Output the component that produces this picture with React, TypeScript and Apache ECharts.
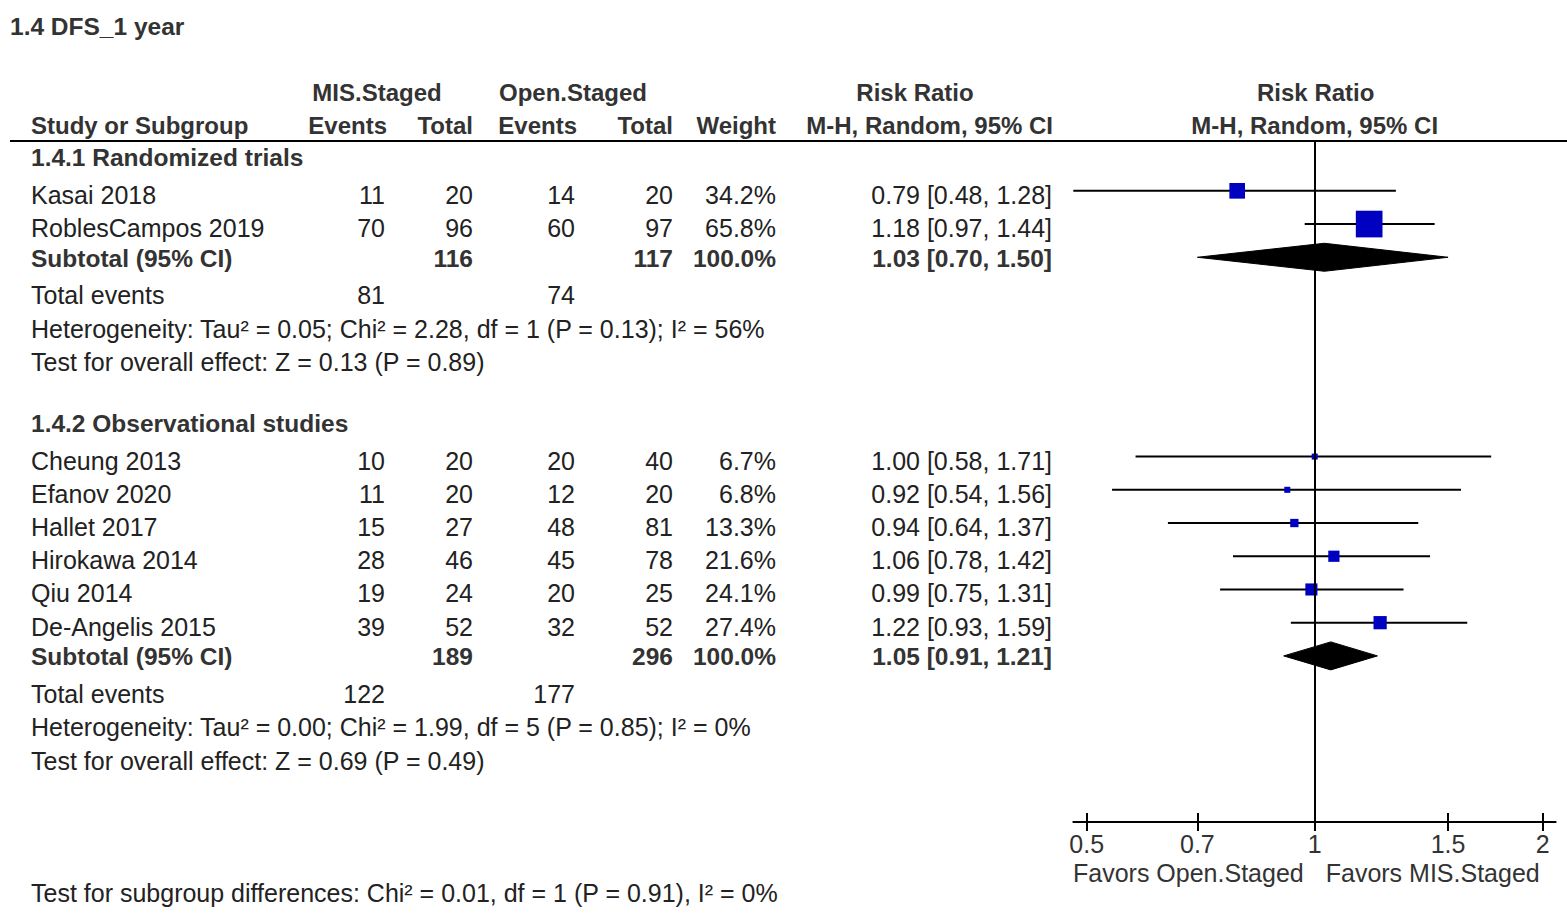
import React, { useEffect, useRef } from 'react';
import * as echarts from 'echarts';

// ---------------- data ----------------
const chartTitle = '1.4 DFS_1 year';
const groupLabel1 = 'MIS.Staged';
const groupLabel2 = 'Open.Staged';

const subgroupNames = ['1.4.1 Randomized trials', '1.4.2 Observational studies'];
const subgroupHeaderRows = [0, 8];

const studies = ['Kasai 2018', 'RoblesCampos 2019', 'Cheung 2013', 'Efanov 2020', 'Hallet 2017', 'Hirokawa 2014', 'Qiu 2014', 'De-Angelis 2015'];
const studyRows = [1, 2, 9, 10, 11, 12, 13, 14];
const misEvents = [11, 70, 10, 11, 15, 28, 19, 39];
const misTotal = [20, 96, 20, 20, 27, 46, 24, 52];
const openEvents = [14, 60, 20, 12, 48, 45, 20, 32];
const openTotal = [20, 97, 40, 20, 81, 78, 25, 52];
const weights = [34.2, 65.8, 6.7, 6.8, 13.3, 21.6, 24.1, 27.4];
const rr = [0.79, 1.18, 1.0, 0.92, 0.94, 1.06, 0.99, 1.22];
const rrLow = [0.48, 0.97, 0.58, 0.54, 0.64, 0.78, 0.75, 0.93];
const rrHigh = [1.28, 1.44, 1.71, 1.56, 1.37, 1.42, 1.31, 1.59];

const subtotalRows = [3, 15];
const subMisTotal = [116, 189];
const subOpenTotal = [117, 296];
const subWeight = [100.0, 100.0];
const subRR = [1.03, 1.05];
const subLow = [0.7, 0.91];
const subHigh = [1.5, 1.21];

const totalEventsRows = [4, 16];
const totalEventsMis = [81, 122];
const totalEventsOpen = [74, 177];

const heterogeneityRows = [5, 17];
const heterogeneity = [
  'Heterogeneity: Tau² = 0.05; Chi² = 2.28, df = 1 (P = 0.13); I² = 56%',
  'Heterogeneity: Tau² = 0.00; Chi² = 1.99, df = 5 (P = 0.85); I² = 0%',
];
const overallRows = [6, 18];
const overallEffect = [
  'Test for overall effect: Z = 0.13 (P = 0.89)',
  'Test for overall effect: Z = 0.69 (P = 0.49)',
];
const subgroupDiffRow = 22;
const subgroupDiff = 'Test for subgroup differences: Chi² = 0.01, df = 1 (P = 0.91), I² = 0%';

const axisTicks = [0.5, 0.7, 1, 1.5, 2];
const favorsLeft = 'Favors Open.Staged';
const favorsRight = 'Favors MIS.Staged';

// ---------------- styles ----------------
const FONT = '"Liberation Sans", Arial, Helvetica, sans-serif';
const FS = 25;
const FSB = 24.5;
const FSH = 24;
const TXT = '#222';
const BOLD = '#333';
const BLUE = '#0000c0';

export default function App() {
  const ref = useRef<HTMLDivElement>(null);

  useEffect(() => {
    const chart = echarts.init(ref.current!, null, { renderer: 'svg' });

    const baseX = {
      type: 'log',
      logBase: 10,
      min: 0.48,
      max: 2.08,
      position: 'bottom',
      offset: 0,
      gridIndex: 0,
      splitLine: { show: false },
      minorTick: { show: false },
    };

    const option: any = {
      animation: false,
      backgroundColor: '#ffffff',
      grid: { left: 1073.3, top: 141, width: 482.3, height: 681, containLabel: false },
      xAxis: [
        {
          ...baseX,
          axisLine: { show: true, onZero: false, lineStyle: { color: '#000', width: 2 } },
          axisTick: { show: true, inside: false, length: 9, customValues: axisTicks, lineStyle: { color: '#000', width: 2 } },
          axisLabel: {
            show: true,
            customValues: axisTicks,
            margin: 9,
            color: '#333',
            fontSize: FS,
            fontFamily: FONT,
            formatter: (v: number) => String(+Number(v).toFixed(2)),
          },
        },
        {
          ...baseX,
          axisLine: { show: false, onZero: false },
          axisTick: { show: true, inside: true, length: 9, customValues: axisTicks, lineStyle: { color: '#000', width: 2 } },
          axisLabel: { show: false },
        },
      ],
      yAxis: { type: 'value', inverse: true, min: -0.5, max: 20, show: false },
      series: [
        {
          type: 'custom',
          name: 'CI',
          clip: false,
          z: 2,
          encode: { x: [0, 1], y: 2 },
          data: studies.map((_, i) => [rrLow[i], rrHigh[i], studyRows[i]]),
          renderItem: (params: any, api: any) => {
            const y = api.value(2);
            const p1 = api.coord([api.value(0), y]);
            const p2 = api.coord([api.value(1), y]);
            return {
              type: 'line',
              shape: { x1: p1[0], y1: p1[1], x2: p2[0], y2: p2[1] },
              style: { stroke: '#000', lineWidth: 2 },
            };
          },
          markLine: {
            silent: true,
            symbol: ['none', 'none'],
            label: { show: false },
            lineStyle: { color: '#000', width: 2, type: 'solid' },
            data: [{ xAxis: 1 }],
          },
        },
        {
          type: 'scatter',
          name: 'RR',
          z: 3,
          symbol: 'rect',
          symbolSize: (_v: any, p: any) => 3.65 + 0.35 * weights[p.dataIndex],
          itemStyle: { color: BLUE, opacity: 1 },
          data: studies.map((_, i) => [rr[i], studyRows[i]]),
        },
        {
          type: 'custom',
          name: 'Subtotal',
          clip: false,
          z: 3,
          encode: { x: [0, 1, 2], y: 3 },
          data: subRR.map((v, i) => [v, subLow[i], subHigh[i], subtotalRows[i]]),
          renderItem: (params: any, api: any) => {
            const y = api.value(3);
            const c = api.coord([api.value(0), y]);
            const l = api.coord([api.value(1), y]);
            const h = api.coord([api.value(2), y]);
            const hh = 14;
            return {
              type: 'polygon',
              shape: { points: [[l[0], c[1]], [c[0], c[1] - hh], [h[0], c[1]], [c[0], c[1] + hh]] },
              style: { fill: '#000', stroke: '#000', lineWidth: 1 },
            };
          },
        },
      ],
    };
    chart.setOption(option);

    const rowY = (r: number) => (chart.convertToPixel({ yAxisIndex: 0 }, r) as number) + 4;
    const xOne = chart.convertToPixel({ xAxisIndex: 0 }, 1) as number;

    const els: any[] = [];
    const T = (text: string, x: number, y: number, align: string = 'left', bold = false, color?: string, size?: number) => {
      els.push({
        type: 'text',
        x,
        y,
        silent: true,
        style: {
          text,
          fill: color || (bold ? BOLD : TXT),
          fontSize: size || (bold ? FSB : FS),
          fontFamily: FONT,
          fontWeight: bold ? 'bold' : 'normal',
          align,
          verticalAlign: 'middle',
        },
      });
    };
    const H = (text: string, x: number, y: number, align: string) => T(text, x, y, align, true, BOLD, FSH);

    const col = { study: 31, misE: 385, misT: 473, openE: 575, openT: 673, weight: 776, ci: 1052 };
    const fmtCI = (a: number, b: number, c: number) => `${a.toFixed(2)} [${b.toFixed(2)}, ${c.toFixed(2)}]`;

    // title & headers
    T(chartTitle, 10, 26, 'left', true);
    H(groupLabel1, 377, 92, 'center');
    H(groupLabel2, 573, 92, 'center');
    H('Risk Ratio', 915, 92, 'center');
    H('Risk Ratio', xOne + 1, 92, 'center');
    H('Study or Subgroup', col.study, 125, 'left');
    H('Events', 387, 125, 'right');
    H('Total', 473, 125, 'right');
    H('Events', 577, 125, 'right');
    H('Total', 673, 125, 'right');
    H('Weight', 776, 125, 'right');
    H('M-H, Random, 95% CI', 1053, 125, 'right');
    H('M-H, Random, 95% CI', xOne, 125, 'center');
    els.push({ type: 'line', silent: true, shape: { x1: 10, y1: 141, x2: 1567, y2: 141 }, style: { stroke: '#000', lineWidth: 2 } });

    subgroupNames.forEach((n, i) => T(n, col.study, rowY(subgroupHeaderRows[i]) - 4, 'left', true));

    studies.forEach((s, i) => {
      const y = rowY(studyRows[i]);
      T(s, col.study, y);
      T(String(misEvents[i]), col.misE, y, 'right');
      T(String(misTotal[i]), col.misT, y, 'right');
      T(String(openEvents[i]), col.openE, y, 'right');
      T(String(openTotal[i]), col.openT, y, 'right');
      T(`${weights[i].toFixed(1)}%`, col.weight, y, 'right');
      T(fmtCI(rr[i], rrLow[i], rrHigh[i]), col.ci, y, 'right');
    });

    subtotalRows.forEach((r, i) => {
      const y = rowY(r) - 3;
      T('Subtotal (95% CI)', col.study, y, 'left', true);
      T(String(subMisTotal[i]), col.misT, y, 'right', true);
      T(String(subOpenTotal[i]), col.openT, y, 'right', true);
      T(`${subWeight[i].toFixed(1)}%`, col.weight, y, 'right', true);
      T(fmtCI(subRR[i], subLow[i], subHigh[i]), col.ci, y, 'right', true);
    });

    totalEventsRows.forEach((r, i) => {
      const y = rowY(r) + 1;
      T('Total events', col.study, y);
      T(String(totalEventsMis[i]), col.misE, y, 'right');
      T(String(totalEventsOpen[i]), col.openE, y, 'right');
    });
    heterogeneityRows.forEach((r, i) => T(heterogeneity[i], col.study, rowY(r) + 1));
    overallRows.forEach((r, i) => T(overallEffect[i], col.study, rowY(r) + 1));
    T(subgroupDiff, col.study, rowY(subgroupDiffRow) + 1);

    T(favorsLeft, xOne - 11, 873, 'right', false, '#333');
    T(favorsRight, xOne + 11, 873, 'left', false, '#333');

    chart.setOption({ graphic: { elements: els } });

    return () => chart.dispose();
  }, []);

  return (
    <div
      ref={ref}
      style={{ position: 'fixed', left: 0, top: 0, width: 1567, height: 918, background: '#fff' }}
    />
  );
}
